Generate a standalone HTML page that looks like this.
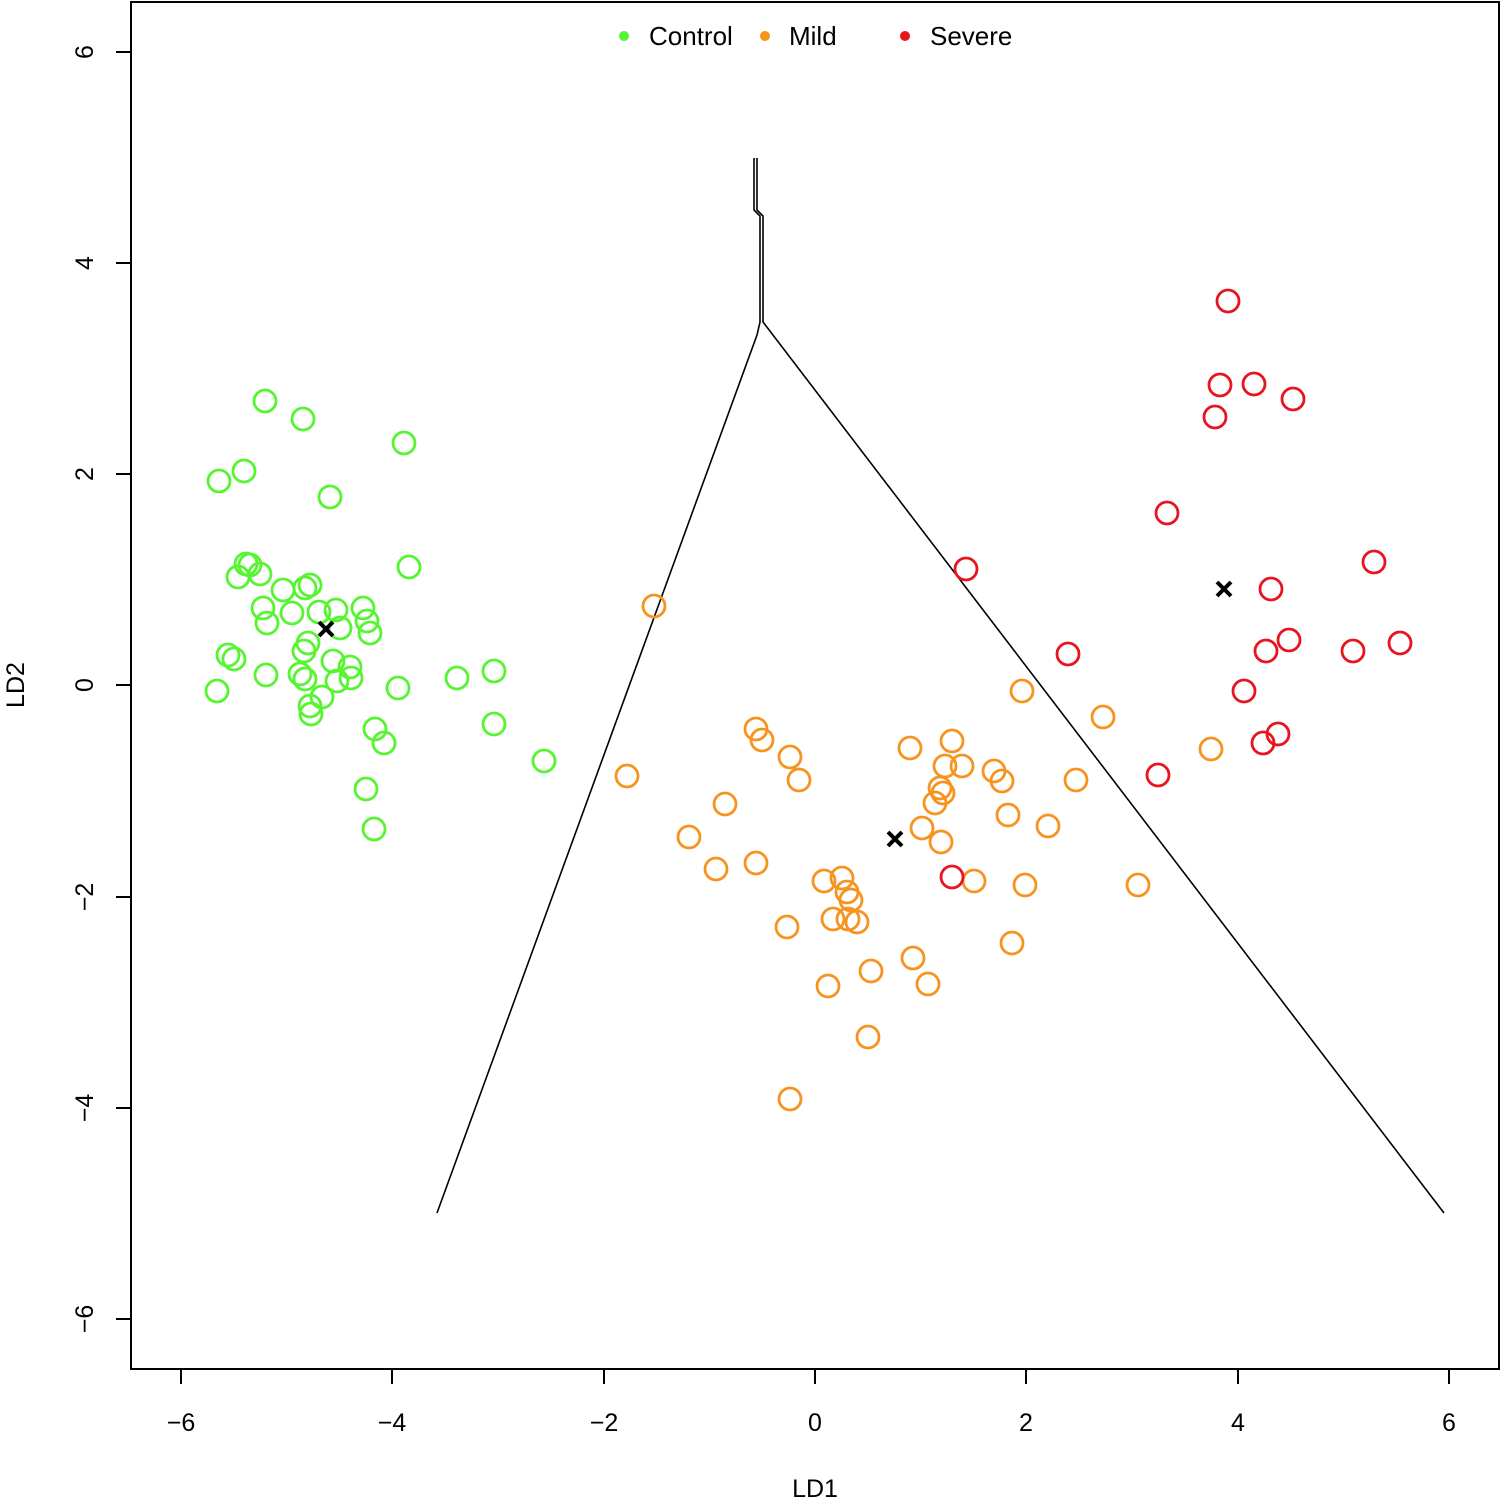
<!DOCTYPE html>
<html><head><meta charset="utf-8"><style>html,body{margin:0;padding:0;background:#fff}</style></head><body>
<svg width="1502" height="1507" xmlns="http://www.w3.org/2000/svg" font-family="Liberation Sans, Arial, sans-serif">
<rect width="1502" height="1507" fill="#fff"/>
<rect x="131" y="2" width="1368" height="1367" fill="none" stroke="#000" stroke-width="2"/>
<g stroke="#000" stroke-width="2">
<line x1="181" y1="1369" x2="1449" y2="1369"/>
<line x1="181" y1="1369" x2="181" y2="1384"/><line x1="392" y1="1369" x2="392" y2="1384"/><line x1="604" y1="1369" x2="604" y2="1384"/><line x1="815" y1="1369" x2="815" y2="1384"/><line x1="1026" y1="1369" x2="1026" y2="1384"/><line x1="1238" y1="1369" x2="1238" y2="1384"/><line x1="1449" y1="1369" x2="1449" y2="1384"/>
<line x1="131" y1="52" x2="131" y2="1319"/>
<line x1="116" y1="52" x2="131" y2="52"/><line x1="116" y1="263" x2="131" y2="263"/><line x1="116" y1="474" x2="131" y2="474"/><line x1="116" y1="685" x2="131" y2="685"/><line x1="116" y1="897" x2="131" y2="897"/><line x1="116" y1="1108" x2="131" y2="1108"/><line x1="116" y1="1319" x2="131" y2="1319"/>
</g>
<g font-size="25" text-anchor="middle" fill="#000">
<text x="181" y="1431">−6</text><text x="392" y="1431">−4</text><text x="604" y="1431">−2</text><text x="815" y="1431">0</text><text x="1026" y="1431">2</text><text x="1238" y="1431">4</text><text x="1449" y="1431">6</text>
<text x="815" y="1497">LD1</text>
<text transform="translate(93,52) rotate(-90)">6</text><text transform="translate(93,263) rotate(-90)">4</text><text transform="translate(93,474) rotate(-90)">2</text><text transform="translate(93,685) rotate(-90)">0</text><text transform="translate(93,897) rotate(-90)">−2</text><text transform="translate(93,1108) rotate(-90)">−4</text><text transform="translate(93,1319) rotate(-90)">−6</text>
<text transform="translate(24,685) rotate(-90)">LD2</text>
</g>
<g font-size="26" fill="#000">
<circle cx="624" cy="36" r="5" fill="#55f530"/><text x="649" y="45">Control</text>
<circle cx="765" cy="36" r="5" fill="#f7931e"/><text x="789" y="45">Mild</text>
<circle cx="905" cy="36" r="5" fill="#e8141e"/><text x="930" y="45">Severe</text>
</g>
<g fill="none" stroke="#000" stroke-width="1.6">
<polyline points="754,158 754,210 760,216 760,322 757,335 437,1213"/>
<polyline points="757,158 757,210 763,216 763,322 1444,1213"/>
</g>
<g fill="none" stroke="#55f530" stroke-width="2.8">
<circle cx="265" cy="401" r="11"/><circle cx="303" cy="419" r="11"/><circle cx="404" cy="443" r="11"/><circle cx="219" cy="481" r="11"/><circle cx="244" cy="471" r="11"/><circle cx="330" cy="497" r="11"/><circle cx="409" cy="567" r="11"/><circle cx="246" cy="564" r="11"/><circle cx="250" cy="565" r="11"/><circle cx="260" cy="574" r="11"/><circle cx="238" cy="577" r="11"/><circle cx="283" cy="590" r="11"/><circle cx="305" cy="588" r="11"/><circle cx="310" cy="585" r="11"/><circle cx="263" cy="608" r="11"/><circle cx="292" cy="613" r="11"/><circle cx="267" cy="623" r="11"/><circle cx="319" cy="612" r="11"/><circle cx="336" cy="610" r="11"/><circle cx="363" cy="608" r="11"/><circle cx="367" cy="621" r="11"/><circle cx="340" cy="628" r="11"/><circle cx="370" cy="633" r="11"/><circle cx="308" cy="643" r="11"/><circle cx="304" cy="651" r="11"/><circle cx="228" cy="655" r="11"/><circle cx="234" cy="659" r="11"/><circle cx="333" cy="661" r="11"/><circle cx="350" cy="667" r="11"/><circle cx="351" cy="678" r="11"/><circle cx="266" cy="675" r="11"/><circle cx="300" cy="674" r="11"/><circle cx="305" cy="679" r="11"/><circle cx="337" cy="681" r="11"/><circle cx="322" cy="697" r="11"/><circle cx="217" cy="691" r="11"/><circle cx="398" cy="688" r="11"/><circle cx="457" cy="678" r="11"/><circle cx="494" cy="671" r="11"/><circle cx="310" cy="706" r="11"/><circle cx="311" cy="714" r="11"/><circle cx="375" cy="729" r="11"/><circle cx="384" cy="743" r="11"/><circle cx="494" cy="724" r="11"/><circle cx="544" cy="761" r="11"/><circle cx="366" cy="789" r="11"/><circle cx="374" cy="829" r="11"/>
</g>
<g fill="none" stroke="#f7931e" stroke-width="2.8">
<circle cx="654" cy="606" r="11"/><circle cx="756" cy="729" r="11"/><circle cx="762" cy="740" r="11"/><circle cx="790" cy="757" r="11"/><circle cx="799" cy="780" r="11"/><circle cx="627" cy="776" r="11"/><circle cx="725" cy="804" r="11"/><circle cx="689" cy="837" r="11"/><circle cx="716" cy="869" r="11"/><circle cx="756" cy="863" r="11"/><circle cx="787" cy="927" r="11"/><circle cx="824" cy="881" r="11"/><circle cx="842" cy="878" r="11"/><circle cx="847" cy="892" r="11"/><circle cx="851" cy="900" r="11"/><circle cx="833" cy="919" r="11"/><circle cx="848" cy="919" r="11"/><circle cx="857" cy="922" r="11"/><circle cx="828" cy="986" r="11"/><circle cx="871" cy="971" r="11"/><circle cx="868" cy="1037" r="11"/><circle cx="790" cy="1099" r="11"/><circle cx="913" cy="958" r="11"/><circle cx="928" cy="984" r="11"/><circle cx="910" cy="748" r="11"/><circle cx="952" cy="741" r="11"/><circle cx="962" cy="766" r="11"/><circle cx="945" cy="766" r="11"/><circle cx="940" cy="788" r="11"/><circle cx="943" cy="793" r="11"/><circle cx="935" cy="803" r="11"/><circle cx="922" cy="828" r="11"/><circle cx="941" cy="842" r="11"/><circle cx="994" cy="771" r="11"/><circle cx="1002" cy="781" r="11"/><circle cx="1008" cy="815" r="11"/><circle cx="1048" cy="826" r="11"/><circle cx="974" cy="881" r="11"/><circle cx="1025" cy="885" r="11"/><circle cx="1012" cy="943" r="11"/><circle cx="1076" cy="780" r="11"/><circle cx="1103" cy="717" r="11"/><circle cx="1022" cy="691" r="11"/><circle cx="1138" cy="885" r="11"/><circle cx="1211" cy="749" r="11"/>
</g>
<g fill="none" stroke="#e8141e" stroke-width="2.8">
<circle cx="1228" cy="301" r="11"/><circle cx="1220" cy="385" r="11"/><circle cx="1254" cy="384" r="11"/><circle cx="1293" cy="399" r="11"/><circle cx="1215" cy="417" r="11"/><circle cx="1167" cy="513" r="11"/><circle cx="966" cy="569" r="11"/><circle cx="1374" cy="562" r="11"/><circle cx="1271" cy="589" r="11"/><circle cx="1068" cy="654" r="11"/><circle cx="1289" cy="640" r="11"/><circle cx="1266" cy="651" r="11"/><circle cx="1353" cy="651" r="11"/><circle cx="1400" cy="643" r="11"/><circle cx="1244" cy="691" r="11"/><circle cx="1278" cy="734" r="11"/><circle cx="1263" cy="743" r="11"/><circle cx="1158" cy="775" r="11"/><circle cx="952" cy="877" r="11"/>
</g>
<g stroke="#000" stroke-width="4">
<path d="M319 622 L333 636 M333 622 L319 636"/>
<path d="M888 832 L902 846 M902 832 L888 846"/>
<path d="M1217 582 L1231 596 M1231 582 L1217 596"/>
</g>
</svg>
</body></html>
